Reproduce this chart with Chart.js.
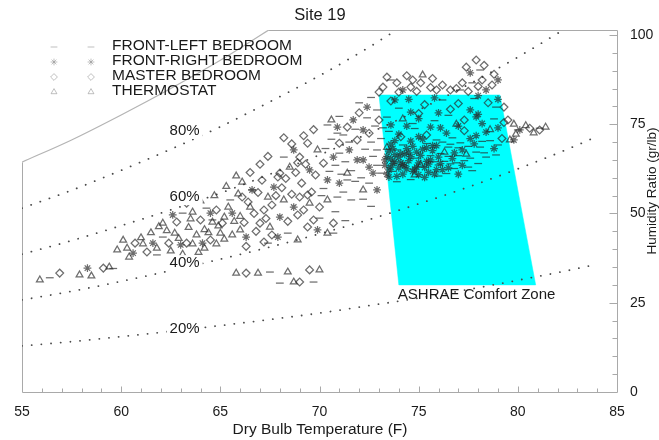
<!DOCTYPE html>
<html>
<head>
<meta charset="utf-8">
<script src="https://cdn.jsdelivr.net/npm/chart.js@4/dist/chart.umd.min.js"></script>
<style>
  html, body { margin: 0; padding: 0; background: #fff; }
  canvas { display: block; }
</style>
</head>
<body>
<canvas id="c" width="659" height="440" style="width:659px;height:440px"></canvas>
<script>
// ---------------- DATA ----------------
const chartTitle = 'Site 19';
const xTitle = 'Dry Bulb Temperature (F)';
const yTitle = 'Humidity Ratio (gr/lb)';
const xTicks = [55, 60, 65, 70, 75, 80, 85];
const yTicks = [0, 25, 50, 75, 100];
const seriesNames = ['FRONT-LEFT BEDROOM', 'FRONT-RIGHT BEDROOM', 'MASTER BEDROOM', 'THERMOSTAT'];

// saturation (100% RH) curve
const satT = [55, 57.5, 60, 62.5, 65, 67.5];
const satW = [64.4, 70.6, 77.6, 85.0, 92.9, 101.6];
// constant relative-humidity curves
const rh80T = [55, 57.5, 60, 62.5, 65, 67.5, 70, 72.5, 75];
const rh80W = [51.5, 56.5, 62.1, 68.0, 74.3, 81.3, 88.6, 96.6, 105.4];
const rh60T = [55, 57.5, 60, 62.5, 65, 67.5, 70, 72.5, 75, 77.5, 80, 82.5];
const rh60W = [38.6, 42.4, 46.6, 51.0, 55.7, 61.0, 66.4, 72.5, 79.0, 86.1, 93.8, 102.1];
const rh40T = [55, 57.5, 60, 62.5, 65, 67.5, 70, 72.5, 75, 77.5, 80, 82.5, 84];
const rh40W = [25.8, 28.2, 31.0, 34.0, 37.2, 40.6, 44.3, 48.3, 52.7, 57.4, 62.5, 68.0, 71.6];
const rh20T = [55, 57.5, 60, 62.5, 65, 67.5, 70, 72.5, 75, 77.5, 80, 82.5, 84];
const rh20W = [12.9, 14.1, 15.5, 17.0, 18.6, 20.3, 22.1, 24.2, 26.3, 28.7, 31.3, 34.0, 35.8];
const rhLabels = ['80%', '60%', '40%', '20%'];
const rhLabelW = [73.1, 54.6, 36.1, 17.6];

// ASHRAE comfort zone outline
const zoneT = [73.0, 79.1, 80.9, 74.0, 73.0];
const zoneW = [83.2, 83.2, 30.0, 30.0, 83.2];
const zoneLabel = 'ASHRAE Comfort Zone';

// measured points [dry bulb F, humidity ratio gr/lb]
const frontLeft = [
  [56.4,32.0],[59.6,34.6],[62.1,43.4],[61.8,38.4],[63.1,50.1],[64.3,51.5],
  [64.6,48.2],[65.5,53.8],[66.6,56.6],[67.4,41.7],[68.4,44.5],[70.0,48.7],
  [68.2,65.8],[70.9,72.5],[72.9,67.8],[73.1,61.3],[71.0,66.9],[71.4,59.4],[70.9,54.6],[70.7,44.5],
  [67.5,33.6],[68.0,30.5],[69.7,30.8],
  [73.6,87.4],[77.7,86.6],[78.1,90.2],[77.1,84.6],[80.0,73.4],[81.1,73.9],
  [76.2,81.8],[77.8,82.2],[74.0,79.5],[78.9,79.8],[73.4,77.0],[75.8,76.0],[76.5,77.5],[78.8,76.5],[74.7,75.2],
  [73.5,73.0],[74.8,73.8],[76.7,71.2],[75.9,70.6],[78.2,70.2],
  [74.2,69.2],[74.9,65.5],[75.6,66.2],[77.0,68.4],[78.3,67.0],[75.4,69.6],[73.9,67.8],[76.5,68.6],
  [73.7,61.8],[75.8,64.5],[76.6,63.9],[77.5,63.0],[74.6,59.5],[76.0,60.5],[73.9,58.9],
  [70.2,57.0],[70.5,61.8],[70.8,63.5],[71.1,61.0],[71.3,64.5],[71.6,62.0],[71.8,59.0],[70.3,68.2],
  [70.6,70.8],[71.2,72.0],[71.5,70.0],[71.8,73.6],[70.4,74.8],[71.0,77.2],[70.1,55.0],[71.2,56.0],
  [71.6,53.8],[70.8,50.5],[71.3,48.0],
  [72.1,60.0],[72.3,68.0],[72.6,70.0],[72.8,74.5],[72.4,76.8],[72.9,79.0],[72.7,66.0],[73.1,71.0],
  [72.5,58.5],[72.9,63.5],[72.2,54.0],[72.6,52.0],[73.2,74.0],[72.0,81.0],[72.6,82.5],
  [76.0,63.6],[76.1,66.8],[76.2,70.0],[76.3,64.6],[76.4,61.2],[76.5,66.0],[76.6,69.4],[76.8,62.6],
  [76.9,64.2],[77.0,66.2],[77.1,69.8],[77.3,64.8],[77.5,68.8],[77.6,65.5],[77.7,62.0],[77.9,67.2],
  [78.0,64.0],[78.1,68.6],[78.4,65.8],[78.6,70.4],[78.9,66.4],[79.0,69.2]
];
const frontRight = [
  [58.3,34.7],[61.6,41.7],[63.0,41.2],[60.6,38.9],[62.6,49.6],[64.5,50.1],
  [64.1,41.7],[65.6,50.1],[66.3,43.4],[66.6,56.6],[67.7,57.4],[68.7,51.8],[70.4,59.4],
  [68.7,67.8],[69.5,62.2],[70.7,65.8],[71.7,76.2],[72.4,79.8],[71.5,67.8],[72.2,65.0],[72.7,61.3],[71.0,58.5],
  [67.9,43.4],[69.9,45.4],[68.0,49.0],
  [70.9,74.2],[72.2,73.4],[71.9,65.0],[72.5,63.0],[72.9,56.6],
  [74.2,84.6],[77.6,89.4],[79.0,87.4],[78.4,84.6],
  [73.8,66.5],[74.5,67.0],[75.2,68.0],[75.9,69.0],[76.7,65.4],[77.8,69.5],[78.8,68.2],[73.6,65.3],[74.7,68.8],[76.0,65.8],[77.2,67.8],
  [73.3,63.5],[74.1,64.2],[74.4,62.5],[75.5,61.5],[76.2,62.3],[77.0,61.0],[73.5,60.2],[75.3,62.9],[74.0,62.8],
  [74.5,82.0],[78.0,77.8],[76.1,74.0],[77.9,71.8],[74.4,74.5],[73.8,70.4],
  [80.1,73.4],[79.8,70.6],
  [73.4,61.0],[73.6,63.0],[73.8,64.5],[73.4,66.0],[73.5,67.5],[73.6,69.4],[73.9,60.4],[74.0,65.8],
  [74.2,61.0],[74.3,63.4],[74.5,64.8],[74.3,66.6],[74.4,68.2],[74.6,70.3],[74.7,61.8],[74.9,63.0],
  [75.0,64.2],[74.9,67.2],[75.1,66.3],[75.2,70.8],[75.3,60.1],[75.5,63.8],[75.6,65.0],[75.7,67.6],
  [75.4,68.4],[75.9,62.3],
  [74.0,72.2],[75.0,71.5],[76.4,72.5],[77.6,71.0],[78.4,72.8],[73.6,74.8],[75.6,74.2],[77.0,74.5],
  [78.2,75.2],[79.0,74.0],[74.6,78.4],[76.0,78.2],[77.6,79.0],[73.8,81.8],[75.8,82.4],[78.0,83.0],
  [79.0,82.0],[75.0,76.6],[77.9,77.1],
  [73.5,62.2],[73.7,64.0],[74.1,66.8],[74.2,63.7],[74.8,62.4],[75.0,60.9],[75.4,64.6],[75.8,61.0],
  [76.1,64.0],[76.5,62.8],[77.2,63.5],[73.3,65.0],[73.7,68.2],[74.6,65.9],[75.7,69.0],[76.8,67.0]
];
const master = [
  [56.9,33.3],[59.1,34.7],[60.7,41.7],[62.4,41.7],[63.3,41.7],[61.3,39.2],
  [62.8,47.6],[64.0,48.2],[64.8,51.0],[63.3,52.9],
  [64.5,42.6],[65.1,47.3],[66.1,54.6],[67.2,51.0],[68.0,61.3],[69.0,54.6],[70.0,51.8],
  [69.0,65.8],[69.4,69.7],[70.2,64.1],[71.0,69.7],[71.4,74.2],[72.0,78.2],[72.5,72.5],[73.0,76.2],[71.9,70.6],
  [67.0,47.3],[69.4,46.2],[70.7,47.3],[66.3,33.3],[69.5,34.2],[69.0,30.8],
  [73.2,85.4],[73.9,86.6],[74.6,85.4],[75.1,86.6],[74.7,87.4],[75.9,84.6],[77.2,86.6],[77.9,93.0],[78.2,87.4],[76.6,84.6],[73.4,88.2],
  [73.6,81.5],[75.3,80.5],[77.0,80.8],[78.5,81.0],[76.6,79.2],[75.0,78.0],[77.3,76.2],[79.3,75.5],
  [74.1,71.5],[75.4,72.0],[77.3,73.2],[79.2,71.0],
  [79.5,76.2],[80.6,73.9],[79.3,79.8],[81.1,73.4],
  [66.2,47.5],[66.4,53.2],[66.7,50.0],[66.9,55.9],[67.1,59.3],[67.3,48.6],[67.6,52.4],[67.8,55.0],
  [66.5,61.5],[67.0,63.8],[67.4,66.0],[67.9,60.2],[66.8,45.0],[67.6,44.0],[67.2,42.0],[66.3,40.8],
  [68.1,57.2],[68.3,59.8],[68.6,55.4],[68.8,61.5],[69.1,58.5],[69.3,63.8],[69.6,56.0],[69.8,60.8],
  [68.4,47.8],[68.9,49.6],[69.2,51.0],[69.7,48.2],[68.6,69.5],[69.2,71.8],[68.2,71.2],[69.7,73.5],
  [68.9,64.2],[69.4,55.2],
  [74.0,84.0],[74.9,84.2],[75.6,85.3],[76.2,86.0],[76.9,85.0],[77.5,84.2],[78.0,85.6],[78.7,86.0],
  [78.3,91.5],[77.4,91.0],[78.8,89.0],[73.0,84.0],[75.7,87.8],[74.4,88.6]
];
const thermostat = [
  [55.9,31.4],[57.9,32.8],[58.5,32.5],[59.4,35.0],
  [60.3,40.3],[61.1,41.5],[61.8,40.3],[62.7,44.5],[63.6,41.5],[64.2,40.3],[60.4,37.8],
  [62.1,47.3],[63.6,50.4],[64.6,47.6],
  [65.0,44.5],[66.0,45.4],[66.5,51.8],[67.4,54.6],[68.2,53.8],[69.5,52.9],[70.4,53.8],
  [68.5,63.0],[69.9,67.8],[70.6,76.2],[71.4,61.3],[72.2,56.6],
  [65.8,33.3],[66.9,33.3],[68.4,33.6],[70.0,34.2],[68.7,30.8],
  [67.5,46.2],[68.9,42.6],[70.4,44.5],
  [73.4,68.5],[74.8,60.8],[76.3,67.2],[77.4,66.6],[75.1,63.6],[74.2,76.5],[76.9,75.0],[78.6,73.5],
  [79.6,70.6],[75.2,88.8],
  [62.3,45.2],[62.9,43.0],[63.4,46.1],[63.8,44.0],[62.5,39.5],[63.1,38.6],[63.9,39.1],[61.5,44.6],
  [61.0,43.2],[60.1,42.5],[59.8,39.8],[61.9,46.3],[63.5,48.5],[64.2,45.5],[64.0,53.5],
  [64.4,44.6],[64.9,46.5],[65.2,49.0],[65.4,51.8],[65.7,47.8],[65.9,55.5],[64.7,55.0],[65.3,57.6],
  [66.0,49.2],[65.6,44.0],[64.8,41.5],[65.2,42.8],[66.1,58.8],[65.8,60.5],
  [79.8,75.0],[80.4,74.6],[80.8,72.6],[81.4,74.2],[79.9,72.2]
];

// ---------------- CHART ----------------
const X_MIN = 55, X_MAX = 85, Y_MIN = 0, Y_MAX = 101.4;
const FONT = '"Liberation Sans", Arial, Helvetica, sans-serif';
const pointColor = 'rgba(40,40,40,0.68)';
const styles = ['line', 'star', 'rectRot', 'triangle'];
const seriesData = [frontLeft, frontRight, master, thermostat];

const toXY = (T, W) => T.map((t, i) => ({ x: t, y: W[i] }));
const toPts = arr => arr.map(p => ({ x: p[0], y: p[1] }));

function rhDataset(T, W) {
  return {
    type: 'line', data: toXY(T, W), showLine: true, pointRadius: 0,
    borderColor: '#4a4a4a', borderWidth: 1.8, borderDash: [0.1, 9.6], borderCapStyle: 'round',
    cubicInterpolationMode: 'monotone', fill: false, order: 5
  };
}

const datasets = [];
seriesData.forEach((d, i) => {
  datasets.push({
    label: seriesNames[i], data: toPts(d), showLine: false,
    pointStyle: styles[i], pointRadius: 3.9, pointBorderWidth: 1.25,
    pointBorderColor: pointColor, pointBackgroundColor: 'rgba(0,0,0,0)', order: 1
  });
});
datasets.push(rhDataset(rh80T, rh80W));
datasets.push(rhDataset(rh60T, rh60W));
datasets.push(rhDataset(rh40T, rh40W));
datasets.push(rhDataset(rh20T, rh20W));
datasets.push({
  type: 'line', data: toXY(satT, satW), showLine: true, pointRadius: 0,
  borderColor: '#b4b4b4', borderWidth: 1.2, cubicInterpolationMode: 'monotone', fill: false, order: 6
});
datasets.push({
  type: 'line', data: toXY(zoneT, zoneW), showLine: true, pointRadius: 0, tension: 0,
  borderColor: '#00ffff', borderWidth: 0.5, backgroundColor: '#00ffff', fill: 'shape', order: 10
});

function txt(ctx, s, x, y, font, align, color) {
  ctx.font = font; ctx.textAlign = align || 'left'; ctx.textBaseline = 'middle';
  ctx.fillStyle = color || '#1a1a1a'; ctx.fillText(s, x, y);
}

const overlay = {
  id: 'overlay',
  beforeDatasetsDraw(chart) {
    const { ctx, scales: { x, y } } = chart;
    const px = v => Math.round(x.getPixelForValue(v)) + 0.5;
    const py = v => Math.round(y.getPixelForValue(v)) + 0.5;
    ctx.save();
    ctx.strokeStyle = '#a9a9a9'; ctx.lineWidth = 1;
    const ln = (a, b, c, d) => { ctx.beginPath(); ctx.moveTo(a, b); ctx.lineTo(c, d); ctx.stroke(); };
    ln(px(X_MIN), py(0), px(X_MAX), py(0));
    ln(px(X_MAX), py(0), px(X_MAX), py(Y_MAX));
    ln(px(67.4), py(Y_MAX), px(X_MAX), py(Y_MAX));
    ln(px(X_MIN), py(0), px(X_MIN), py(satW[0]));
    for (let t = X_MIN + 1; t < X_MAX; t++) {
      const len = (t % 5 === 0) ? 6 : 4;
      ln(px(t), py(0), px(t), py(0) - len);
    }
    for (let w = 5; w <= 100; w += 5) {
      const len = (w % 25 === 0) ? 8 : 5;
      ln(px(X_MAX), py(w), px(X_MAX) - len, py(w));
    }
    ctx.restore();
  },
  afterDatasetsDraw(chart) {
    const { ctx, scales: { x, y } } = chart;
    ctx.save();
    rhLabels.forEach((s, i) => {
      const cx = x.getPixelForValue(63.2), cy = y.getPixelForValue(rhLabelW[i]);
      ctx.font = '15px ' + FONT;
      const w = ctx.measureText(s).width;
      ctx.fillStyle = '#fff';
      ctx.fillRect(cx - w / 2 - 3, cy - 8, w + 6, 16);
      txt(ctx, s, cx, cy, '15px ' + FONT, 'center', '#1a1a1a');
    });
    txt(ctx, zoneLabel, x.getPixelForValue(zoneT[3]) - 1, y.getPixelForValue(zoneW[3]) + 10, '15px ' + FONT, 'left');
    const legX = 112, legY0 = 46, legDy = 15;
    seriesNames.forEach((s, i) => {
      const yy = legY0 + i * legDy;
      const opts = { pointStyle: styles[i], radius: 3.4, borderWidth: 1 };
      ctx.strokeStyle = 'rgba(140,140,140,0.55)'; ctx.fillStyle = 'rgba(0,0,0,0)'; ctx.lineWidth = 1;
      if (Chart.helpers && Chart.helpers.drawPoint) {
        Chart.helpers.drawPoint(ctx, opts, 54, yy + 1);
        Chart.helpers.drawPoint(ctx, opts, 91, yy + 1);
      }
      txt(ctx, s, legX, yy, '15.5px ' + FONT, 'left', '#1a1a1a');
    });
    txt(ctx, chartTitle, 320, 15, '16.5px ' + FONT, 'center', '#1a1a1a');
    txt(ctx, xTitle, 320, 430, '15.5px ' + FONT, 'center', '#1a1a1a');
    ctx.translate(652, 191); ctx.rotate(-Math.PI / 2);
    txt(ctx, yTitle, 0, 0, '13.5px ' + FONT, 'center', '#1a1a1a');
    ctx.restore();
  }
};

new Chart(document.getElementById('c').getContext('2d'), {
  type: 'scatter',
  data: { datasets },
  options: {
    responsive: false, animation: false, devicePixelRatio: 1,
    layout: { padding: { left: 22, top: 30, right: 0, bottom: 0 } },
    plugins: { legend: { display: false }, tooltip: { enabled: false }, title: { display: false } },
    scales: {
      x: {
        type: 'linear', position: 'bottom', min: X_MIN, max: X_MAX,
        grid: { display: false }, border: { display: false },
        afterBuildTicks: s => { s.ticks = xTicks.map(v => ({ value: v })); },
        ticks: { font: { family: FONT, size: 14 }, color: '#1a1a1a', padding: 4, maxRotation: 0, autoSkip: false },
        afterFit: s => { s.height = 48; }
      },
      y: {
        type: 'linear', position: 'right', min: Y_MIN, max: Y_MAX,
        grid: { display: false }, border: { display: false },
        afterBuildTicks: s => { s.ticks = yTicks.map(v => ({ value: v })); },
        ticks: { font: { family: FONT, size: 14 }, color: '#1a1a1a', padding: 5, autoSkip: false },
        afterFit: s => { s.width = 42; }
      }
    }
  },
  plugins: [overlay]
});
</script>
</body>
</html>
